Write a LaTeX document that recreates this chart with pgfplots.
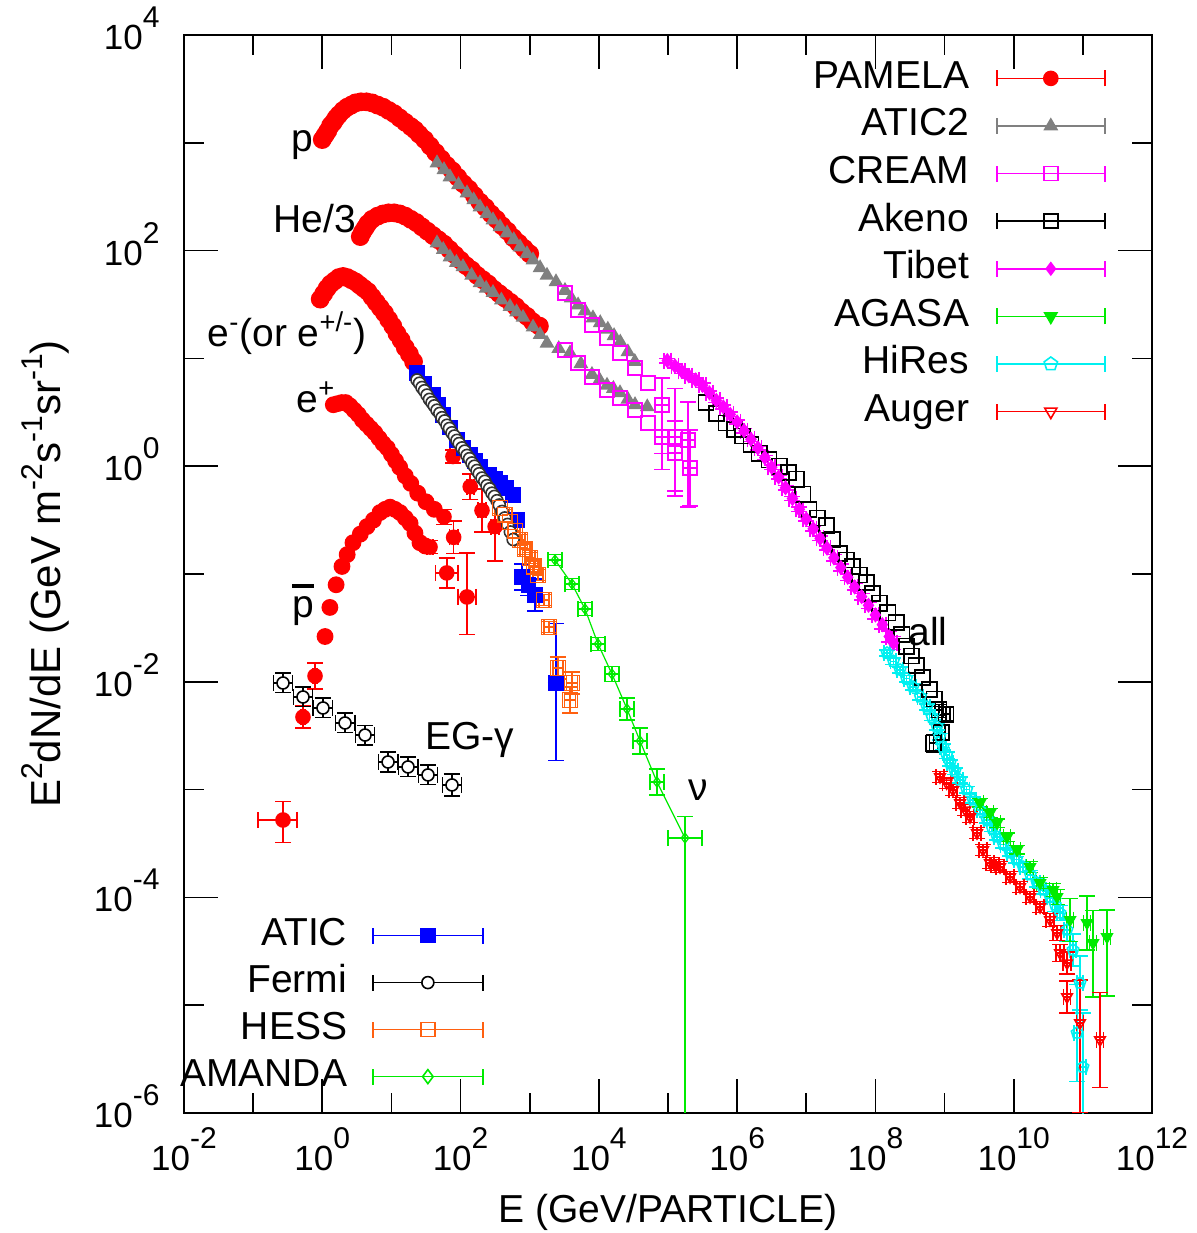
\documentclass[border=0pt]{standalone}
\usepackage{fontspec}
\setmainfont{Liberation Sans}
\usepackage{pgfplots}
\pgfplotsset{compat=1.18}
\usetikzlibrary{plotmarks}

\definecolor{hesso}{RGB}{255,96,16}
\definecolor{agreen}{RGB}{0,235,0}
\definecolor{atgray}{RGB}{128,128,128}
\definecolor{mag}{RGB}{255,0,255}
\definecolor{cya}{RGB}{0,240,240}
\definecolor{pred}{RGB}{255,0,0}
\definecolor{pblue}{RGB}{0,0,255}

% tick label: 10 with exponent
\newcommand{\tp}[1]{10\raisebox{11pt}{\fontsize{15}{15}\selectfont #1}}
\newcommand{\lbl}{\fontsize{19.5}{23}\selectfont}
\newcommand{\ys}[1]{\raisebox{9pt}{\fontsize{15}{15}\selectfont #1}}

\pgfplotsset{
  crframe/.style={
    width=484pt, height=539pt, scale only axis,
    at={(0pt,0pt)}, anchor=south west,
    xmin=-2, xmax=12, ymin=-6, ymax=4,
  },
  eb/.style={error bars/.cd, x dir=both, x explicit, y dir=both, y explicit,
    error bar style={line width=0.8pt, solid},
    error mark options={rotate=90, mark size=4pt, line width=0.8pt, solid}},
  pam/.style={only marks, pred, mark=*, mark size=4.3pt, forget plot},
}

\begin{document}
\begin{tikzpicture}
\useasboundingbox (-92pt,-60pt) rectangle (506.5pt,556.5pt);

% ---------- main axis: hadrons, all-particle, top-right legend ----------
\begin{axis}[crframe,
  axis line style={line width=1pt},
  xtick={-2,0,...,12}, minor xtick={-1,1,...,11},
  ytick={-6,-4,...,4}, minor ytick={-5,-3,...,3},
  xticklabels={\tp{-2},\tp{0},\tp{2},\tp{4},\tp{6},\tp{8},\tp{10},\tp{12}},
  yticklabels={\tp{-6},\tp{-4},\tp{-2},\tp{0},\tp{2},\tp{4}},
  tick align=inside, major tick length=17pt, minor tick length=10pt,
  tick style={line width=0.8pt, black},
  tick label style={font=\fontsize{17.5}{20}\selectfont},
  xticklabel style={anchor=north, inner sep=0pt, yshift=-7pt},
  yticklabel style={anchor=east, inner sep=0pt, xshift=-12pt, yshift=3.3pt},
  xlabel={E (GeV/PARTICLE)},
  ylabel={E\ys{2}dN/dE (GeV m\ys{-2}s\ys{-1}sr\ys{-1})},
  every axis x label/.style={at={(rel axis cs:0.5,-0.092)}, anchor=center, font=\lbl},
  every axis y label/.style={at={(rel axis cs:-0.1436,0.5)}, rotate=90, anchor=center,
    font=\fontsize{21}{24}\selectfont},
  every axis plot/.append style={line width=0.8pt},
  legend style={at={(rel axis cs:0.9525,0.9768)}, anchor=north east, draw=none, fill=none,
    font=\lbl, row sep=5.8pt, column sep=13.5pt, inner sep=0pt,
    nodes={inner sep=0pt, text height=14pt, text depth=4pt}},
  legend cell align=right, legend plot pos=right,
  legend image code/.code={
    \draw[#1,mark=none,line width=0.8pt] (0pt,0pt) -- (54pt,0pt);
    \draw[#1,mark=none,line width=0.8pt] (0pt,-4pt) -- (0pt,4pt) (54pt,-4pt) -- (54pt,4pt);
    \draw[#1,only marks] plot coordinates {(27pt,0pt)};
  },
]

% PAMELA protons
\addplot[pam] coordinates {
(0.00,3.03)(0.04,3.07)(0.08,3.11)(0.12,3.16)(0.16,3.19)(0.20,3.23)(0.24,3.26)(0.30,3.30)(0.36,3.33)(0.42,3.35)
(0.48,3.37)(0.56,3.38)(0.64,3.38)(0.72,3.37)(0.80,3.35)(0.88,3.33)(0.96,3.30)(1.04,3.27)
(1.12,3.23)(1.20,3.19)(1.28,3.15)(1.34,3.12)(1.40,3.08)(1.48,3.03)(1.56,2.97)(1.64,2.91)
(1.72,2.85)(1.80,2.79)(1.88,2.74)(1.96,2.68)(2.04,2.62)(2.12,2.57)(2.20,2.51)(2.28,2.45)
(2.36,2.40)(2.44,2.34)(2.52,2.29)(2.60,2.23)(2.68,2.18)(2.76,2.12)(2.84,2.07)(2.92,2.02)
(3.00,1.97)
};
% PAMELA He/3
\addplot[pam] coordinates {
(0.55,2.13)(0.58,2.17)(0.62,2.21)(0.66,2.25)(0.72,2.29)(0.80,2.32)(0.88,2.34)(0.96,2.35)(1.04,2.35)
(1.12,2.34)(1.20,2.32)(1.28,2.29)(1.36,2.26)(1.44,2.22)(1.52,2.18)(1.60,2.14)(1.68,2.10)
(1.76,2.06)(1.84,2.01)(1.92,1.96)(2.00,1.91)(2.08,1.86)(2.16,1.82)(2.24,1.77)(2.32,1.73)
(2.40,1.69)(2.48,1.64)(2.56,1.60)(2.64,1.56)(2.72,1.52)(2.80,1.48)(2.88,1.43)(2.96,1.39)
(3.04,1.34)
};
\addplot[pam, eb] coordinates {(3.14,1.30) +- (0.05,0.05)};
% PAMELA electrons
\addplot[pam] coordinates {
(-0.03,1.55)(0.02,1.60)(0.07,1.65)(0.12,1.69)(0.18,1.72)(0.24,1.75)(0.30,1.76)(0.36,1.75)
(0.42,1.73)(0.48,1.71)(0.54,1.68)(0.60,1.65)(0.66,1.62)(0.72,1.57)(0.78,1.52)(0.84,1.47)
(0.90,1.42)(0.96,1.36)(1.02,1.30)(1.08,1.23)(1.14,1.17)(1.20,1.10)(1.26,1.04)(1.32,0.97)
};
\addplot[pam, mark size=3.5pt, eb] coordinates {
(1.89,0.09) +- (0.04,0.06) (2.14,-0.19) +- (0.05,0.12) (2.31,-0.41) +- (0.06,0.2) (2.50,-0.56) +- (0.06,0.32)
};
% PAMELA positrons
\addplot[pam, mark size=3.8pt] coordinates {
(0.16,0.57)(0.22,0.58)(0.28,0.59)(0.34,0.59)(0.40,0.56)(0.46,0.52)(0.52,0.48)(0.58,0.43)
(0.64,0.39)(0.70,0.35)(0.76,0.31)(0.82,0.26)(0.88,0.21)(0.94,0.17)(1.00,0.11)(1.06,0.05)
(1.12,-0.01)(1.20,-0.09)(1.28,-0.16)(1.38,-0.25)(1.50,-0.33)(1.62,-0.40)
};
\addplot[pam, mark size=3.5pt, eb] coordinates {(1.76,-0.47) +- (0.05,0.07) (1.90,-0.66) +- (0.06,0.15)};
% PAMELA antiprotons
\addplot[pam, mark size=3.8pt] coordinates {
(0.04,-1.58)(0.11,-1.31)(0.20,-1.10)(0.285,-0.93)(0.36,-0.82)(0.444,-0.71)(0.55,-0.63)
(0.647,-0.56)(0.74,-0.50)(0.835,-0.43)(0.91,-0.40)(0.98,-0.38)(1.05,-0.40)(1.124,-0.43)
(1.20,-0.48)(1.27,-0.53)(1.34,-0.62)(1.413,-0.71)(1.49,-0.74)
};
\addplot[pam, mark size=3.5pt, eb] coordinates {
(-0.568,-3.282) += (0.2,0.17) -= (0.36,0.21)
(-0.279,-2.327) +- (0.03,0.1)
(-0.105,-1.946) +- (0.03,0.12)
(1.558,-0.750) +- (0.04,0.06)
(1.80,-0.99) +- (0.16,0.14)
(2.093,-1.213) += (0.13,0.41) -= (0.13,0.35)
};

% ATIC2 (protons, helium)
\addplot[only marks, atgray, mark=triangle*, mark size=3.5pt, forget plot] coordinates {
(1.659,2.813)(1.76,2.75)(1.847,2.683)(1.97,2.61)(2.093,2.534)(2.19,2.47)(2.281,2.404)
(2.38,2.34)(2.469,2.284)(2.57,2.22)(2.672,2.163)(2.77,2.10)(2.860,2.033)(2.96,1.97)
(3.048,1.913)(3.15,1.84)(3.25,1.77)(3.38,1.71)(3.51,1.63)(3.60,1.56)(3.70,1.495)(3.80,1.44)
(3.915,1.375)(4.02,1.33)(4.13,1.27)(4.22,1.21)(4.31,1.15)(4.42,1.06)(4.52,0.97)
(1.659,2.07)(1.75,2.01)(1.847,1.94)(1.94,1.89)(2.035,1.85)(2.16,1.77)(2.281,1.70)(2.37,1.65)
(2.469,1.61)(2.59,1.54)(2.715,1.48)(2.81,1.43)(2.903,1.38)(3.048,1.29)(3.15,1.22)(3.25,1.14)
(3.42,1.09)(3.583,1.05)(3.74,0.95)(3.90,0.85)(4.01,0.80)(4.118,0.75)(4.21,0.72)(4.306,0.68)
(4.42,0.62)(4.523,0.57)(4.70,0.55)
};

% CREAM
\addplot[only marks, mag, mark=square, mark size=3.5pt, forget plot] coordinates {
(3.511,1.607)(3.699,1.449)(3.901,1.310)(4.118,1.189)(4.306,1.050)(4.523,0.911)(4.711,0.772)
(3.511,1.078)(3.699,0.957)(3.901,0.828)(4.118,0.707)(4.306,0.633)(4.523,0.521)(4.711,0.401)
};
\addplot[only marks, mag, mark=square, mark size=3.5pt, forget plot, eb] coordinates {
(4.913,0.568) += (0,0.25) -= (0,0.45)
(5.101,0.271) += (0,0.45) -= (0,0.55)
(5.290,0.243) += (0,0.35) -= (0,0.62)
(4.913,0.271) +- (0,0.30)
(5.101,0.122) += (0,0.30) -= (0,0.35)
(5.318,-0.017) +- (0,0.35)
};

% Akeno
\addplot[only marks, black, mark=square, mark size=3.8pt, forget plot] coordinates {
(5.55,0.59)(5.70,0.49)(5.84,0.40)(5.96,0.34)(6.08,0.28)(6.20,0.20)(6.32,0.12)(6.46,0.06)
(6.61,0.00)(6.74,-0.06)(6.86,-0.12)(6.95,-0.26)(7.04,-0.40)(7.16,-0.48)(7.29,-0.55)
(7.38,-0.68)(7.48,-0.81)(7.58,-0.87)(7.67,-0.93)(7.77,-1.01)(7.87,-1.08)(7.96,-1.18)
(8.06,-1.27)(8.18,-1.36)(8.30,-1.45)(8.38,-1.56)(8.45,-1.67)(8.52,-1.76)(8.59,-1.85)
(8.68,-1.96)(8.78,-2.07)(8.85,-2.16)
};
\addplot[only marks, black, mark=square, mark size=3.8pt, forget plot, eb] coordinates {
(8.92,-2.26) +- (0.06,0.05) (9.02,-2.30) +- (0.06,0.06) (8.95,-2.47) +- (0.06,0.07) (8.84,-2.57) +- (0.06,0.08)
};

% Tibet
\addplot[only marks, mag, mark=diamond*, mark size=3.2pt, forget plot, eb] coordinates {
(4.99,0.98) +- (0.05,0.02) (5.10,0.93) +- (0.05,0.02) (5.20,0.88) +- (0.05,0.02) (5.30,0.84) +- (0.05,0.02)
(5.40,0.80) +- (0.05,0.02) (5.50,0.75) +- (0.05,0.02) (5.60,0.68) +- (0.05,0.02) (5.70,0.61) +- (0.05,0.02)
(5.80,0.55) +- (0.05,0.02) (5.90,0.48) +- (0.05,0.02) (6.00,0.41) +- (0.05,0.02) (6.10,0.33) +- (0.05,0.02)
(6.20,0.25) +- (0.05,0.02) (6.30,0.17) +- (0.05,0.02) (6.40,0.08) +- (0.05,0.02) (6.50,-0.01) +- (0.05,0.02)
(6.60,-0.10) +- (0.05,0.02) (6.70,-0.20) +- (0.05,0.02) (6.80,-0.30) +- (0.05,0.02) (6.90,-0.40) +- (0.05,0.02)
(7.00,-0.49) +- (0.05,0.02) (7.10,-0.58) +- (0.05,0.02) (7.20,-0.67) +- (0.05,0.02) (7.30,-0.76) +- (0.05,0.02)
(7.40,-0.85) +- (0.05,0.03) (7.50,-0.94) +- (0.05,0.03) (7.60,-1.03) +- (0.05,0.03) (7.70,-1.12) +- (0.05,0.03)
(7.80,-1.21) +- (0.05,0.03) (7.90,-1.29) +- (0.05,0.03) (8.00,-1.38) +- (0.05,0.04) (8.10,-1.47) +- (0.05,0.04)
(8.20,-1.58) +- (0.05,0.05) (8.26,-1.64) +- (0.05,0.06)
};

% HiRes
\addplot[only marks, cya, mark=pentagon, mark size=3pt, forget plot, eb] coordinates {
(8.168,-1.733) +- (0.04,0.03) (8.26,-1.81) +- (0.04,0.03) (8.356,-1.890) +- (0.04,0.03) (8.45,-1.97) +- (0.04,0.03)
(8.544,-2.048) +- (0.04,0.03) (8.65,-2.14) +- (0.04,0.03) (8.746,-2.234) +- (0.04,0.03) (8.82,-2.33) +- (0.04,0.03)
(8.891,-2.419) +- (0.04,0.03) (8.93,-2.51) +- (0.04,0.03) (8.978,-2.605) +- (0.04,0.03) (9.03,-2.68) +- (0.04,0.03)
(9.079,-2.753) +- (0.04,0.03) (9.15,-2.83) +- (0.04,0.03) (9.224,-2.911) +- (0.04,0.03) (9.32,-3.00) +- (0.04,0.03)
(9.412,-3.096) +- (0.04,0.03) (9.51,-3.19) +- (0.04,0.03) (9.614,-3.282) +- (0.04,0.03) (9.69,-3.36) +- (0.04,0.03)
(9.759,-3.440) +- (0.04,0.03) (9.85,-3.51) +- (0.04,0.03) (9.947,-3.588) +- (0.04,0.03) (10.04,-3.65) +- (0.04,0.03)
(10.135,-3.718) +- (0.04,0.04) (10.24,-3.79) +- (0.04,0.04) (10.337,-3.866) +- (0.04,0.04) (10.43,-3.93) +- (0.04,0.04)
(10.525,-3.996) +- (0.04,0.05) (10.60,-4.07) +- (0.04,0.06) (10.670,-4.145) +- (0.04,0.07)
(10.771,-4.302) +- (0.04,0.1) (10.858,-4.488) +- (0.04,0.15) (10.959,-4.794) +- (0.04,0.25)
(10.916,-5.258) +- (0.04,0.45) (11.002,-5.573) +- (0.04,0.5)
};

% AGASA
\addplot[only marks, agreen, mark=triangle*, mark size=3pt, mark options={rotate=180}, forget plot, eb] coordinates {
(9.513,-3.124) +- (0.05,0.04) (9.657,-3.217) +- (0.05,0.04) (9.759,-3.310) +- (0.05,0.04)
(9.903,-3.440) +- (0.05,0.04) (10.048,-3.560) +- (0.05,0.04) (10.236,-3.718) +- (0.05,0.05)
(10.381,-3.866) +- (0.05,0.05) (10.569,-3.931) +- (0.05,0.06) (10.627,-3.996) +- (0.05,0.07)
(10.815,-4.209) +- (0.05,0.2) (11.06,-4.237) +- (0.05,0.25)
(11.147,-4.423) += (0.05,0.3) -= (0.05,0.5) (11.349,-4.367) += (0.05,0.25) -= (0.05,0.55)
};

% Auger
\addplot[only marks, pred, mark=triangle, mark size=3pt, mark options={rotate=180}, forget plot, eb] coordinates {
(8.934,-2.883) +- (0.06,0.05) (9.03,-2.94) +- (0.06,0.05) (9.122,-3.004) +- (0.06,0.05)
(9.224,-3.124) +- (0.06,0.05) (9.30,-3.19) +- (0.06,0.05) (9.368,-3.254) +- (0.06,0.05)
(9.469,-3.403) +- (0.06,0.05) (9.556,-3.560) +- (0.06,0.05) (9.657,-3.681) +- (0.06,0.05)
(9.73,-3.70) +- (0.06,0.05) (9.802,-3.718) +- (0.06,0.05) (9.947,-3.811) +- (0.06,0.05)
(10.091,-3.903) +- (0.06,0.05) (10.236,-3.996) +- (0.06,0.05) (10.381,-4.089) +- (0.06,0.05)
(10.525,-4.209) +- (0.06,0.06) (10.627,-4.330) +- (0.06,0.07) (10.670,-4.516) +- (0.06,0.08)
(10.771,-4.609) +- (0.06,0.1) (10.771,-4.924) +- (0.05,0.15)
(10.959,-5.165) += (0.05,0.4) -= (0.05,0.83) (11.248,-5.323) +- (0.05,0.44)
};

% legend entries (top right)
\addlegendimage{pred, mark=*, mark size=3.5pt}
\addlegendimage{atgray, mark=triangle*, mark size=3.5pt}
\addlegendimage{mag, mark=square, mark size=3.5pt}
\addlegendimage{black, mark=square, mark size=3.5pt}
\addlegendimage{mag, mark=diamond*, mark size=3pt}
\addlegendimage{agreen, mark=triangle*, mark size=3.5pt, mark options={rotate=180}}
\addlegendimage{cya, mark=pentagon, mark size=3.5pt}
\addlegendimage{pred, mark=triangle, mark size=3.5pt, mark options={rotate=180}}
\legend{PAMELA, ATIC2, CREAM, Akeno, Tibet, AGASA, HiRes, Auger}

% labels
\node[font=\lbl] at (axis cs:-0.29,2.98) {p};
\node[font=\lbl] at (axis cs:-0.105,2.30) {He/3};
\node[font=\lbl] at (axis cs:-0.51,1.236) {e\textsuperscript{-}(or e\textsuperscript{+/-})};
\node[font=\lbl] at (axis cs:-0.09,0.642) {e\textsuperscript{+}};
\node[font=\lbl] at (axis cs:-0.279,-1.288) {\makebox[0pt][l]{\raisebox{0.78em}{\rule{0.55em}{0.09em}}}p};
\node[font=\lbl] at (axis cs:2.137,-2.54) {EG-γ};
\node[font=\lbl] at (axis cs:5.434,-3.004) {ν};
\node[font=\lbl] at (axis cs:8.76,-1.538) {all};
\end{axis}

% ---------- second axis: electrons, gamma, neutrinos, bottom-left legend ----------
\begin{axis}[crframe, hide axis,
  every axis plot/.append style={line width=0.8pt},
  legend style={at={(rel axis cs:0.31,0.0167)}, anchor=south east, draw=none, fill=none,
    font=\lbl, row sep=5.5pt, column sep=12.5pt, inner sep=0pt,
    nodes={inner sep=0pt, text height=14pt, text depth=4pt}},
  legend cell align=right, legend plot pos=right,
  legend image code/.code={
    \draw[#1,mark=none,line width=0.8pt] (0pt,0pt) -- (55pt,0pt);
    \draw[#1,mark=none,line width=0.8pt] (0pt,-4pt) -- (0pt,4pt) (55pt,-4pt) -- (55pt,4pt);
    \draw[#1,only marks] plot coordinates {(27.5pt,0pt)};
  },
]
% Fermi extragalactic gamma
\addplot[only marks, black, mark=*, mark size=3pt, mark options={fill=white}, forget plot, eb] coordinates {
(-0.568,-2.011) +- (0.14,0.09) (-0.279,-2.141) +- (0.14,0.09) (0.010,-2.243) +- (0.14,0.09)
(0.329,-2.382) +- (0.14,0.09) (0.618,-2.494) +- (0.14,0.09) (0.951,-2.744) +- (0.14,0.09)
(1.24,-2.790) +- (0.14,0.09) (1.529,-2.864) +- (0.14,0.09) (1.876,-2.957) +- (0.14,0.1)
};
% ATIC electrons
\addplot[only marks, pblue, mark=square*, mark size=3.5pt, forget plot] coordinates {
(1.370,0.865)(1.48,0.76)(1.601,0.660)(1.68,0.57)(1.746,0.475)(1.85,0.36)(1.948,0.243)
(2.04,0.17)(2.137,0.104)(2.21,0.05)(2.281,-0.007)(2.42,-0.08)(2.50,-0.12)(2.570,-0.156)
(2.66,-0.20)(2.758,-0.267)(2.82,-0.50)
};
\addplot[only marks, pblue, mark=square*, mark size=3.5pt, forget plot, eb] coordinates {
(2.889,-1.028) +- (0.04,0.12) (2.98,-1.10) +- (0.04,0.1) (3.077,-1.195) +- (0.04,0.15)
(3.38,-2.011) += (0,0.55) -= (0,0.72)
};
% Fermi electrons
\addplot[only marks, black!80, mark=*, mark size=3pt, mark options={fill=white}, forget plot] coordinates {
(1.370,0.80)(1.406,0.77)(1.442,0.73)(1.478,0.70)(1.515,0.66)(1.55,0.62)(1.587,0.59)(1.62,0.56)
(1.659,0.52)(1.70,0.49)(1.732,0.45)(1.77,0.42)(1.804,0.38)(1.84,0.35)(1.876,0.31)(1.91,0.28)
(1.948,0.24)(1.98,0.21)(2.021,0.17)(2.06,0.14)(2.093,0.10)(2.13,0.07)(2.165,0.03)(2.20,0.00)
(2.238,-0.04)(2.27,-0.07)(2.310,-0.11)(2.35,-0.14)(2.382,-0.18)(2.42,-0.21)(2.455,-0.25)
(2.49,-0.28)(2.527,-0.32)(2.56,-0.36)(2.60,-0.42)(2.64,-0.48)(2.68,-0.54)(2.72,-0.61)(2.76,-0.68)
};
% HESS
\addplot[only marks, hesso, mark=square, mark size=3.7pt, forget plot, eb] coordinates {
(2.570,-0.388) +- (0.07,0.05) (2.64,-0.45) +- (0.07,0.05) (2.715,-0.518) +- (0.07,0.05)
(2.79,-0.60) +- (0.07,0.05) (2.860,-0.685) +- (0.07,0.05) (2.93,-0.77) +- (0.07,0.05)
(3.004,-0.852) +- (0.07,0.05) (3.06,-0.93) +- (0.07,0.05) (3.120,-1.009) +- (0.07,0.05)
(3.207,-1.241) +- (0.07,0.05) (3.279,-1.492) +- (0.07,0.05) (3.409,-1.872) +- (0.07,0.1)
(3.612,-2.011) +- (0.08,0.1) (3.583,-2.169) +- (0.08,0.12)
};
% AMANDA
\addplot[agreen, line width=0.6pt, mark=diamond, mark size=2.5pt, forget plot, eb] coordinates {
(3.366,-0.870) +- (0.1,0.05) (3.612,-1.093) +- (0.1,0.05) (3.80,-1.325) +- (0.1,0.06)
(3.988,-1.649) +- (0.1,0.06) (4.19,-1.928) +- (0.1,0.07) (4.407,-2.252) +- (0.1,0.1)
(4.595,-2.549) +- (0.1,0.12) (4.841,-2.930) +- (0.1,0.12)
(5.246,-3.449) += (0.25,0.2) -= (0.25,2.6)
};

\addlegendimage{pblue, mark=square*, mark size=3.5pt}
\addlegendimage{black, mark=*, mark size=3pt, mark options={fill=white}}
\addlegendimage{hesso, mark=square, mark size=3.5pt}
\addlegendimage{agreen, mark=diamond, mark size=3.5pt}
\legend{ATIC, Fermi, HESS, AMANDA}
\end{axis}
\end{tikzpicture}
\end{document}
